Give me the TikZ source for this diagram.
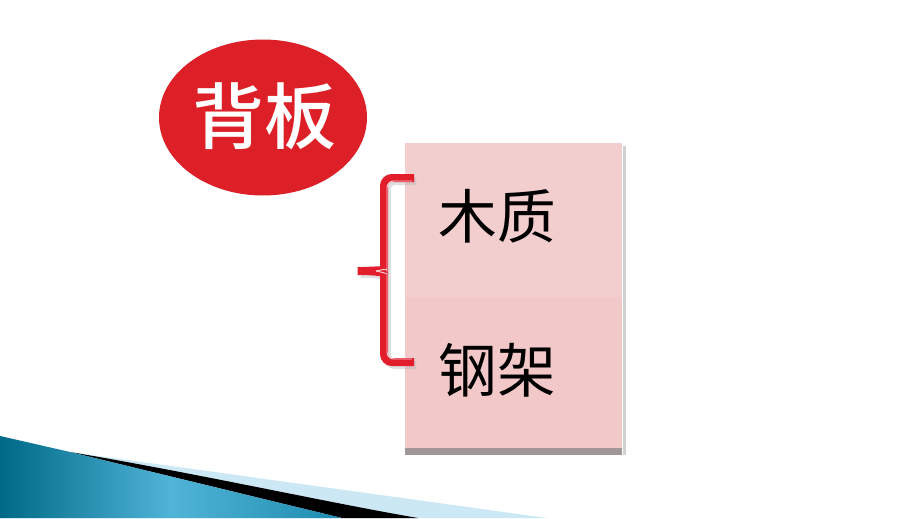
\documentclass[tikz,border=0pt]{standalone}
\usepackage{fontspec}
\usepackage{tikz}
\usetikzlibrary{shapes.geometric}
\newfontfamily\cjk{Noto Sans CJK SC}
\newfontfamily\cjkmed{Noto Sans CJK SC}[UprightFont=* Medium]
\definecolor{ovalred}{RGB}{221,32,40}
\definecolor{bracered}{RGB}{226,30,45}
\definecolor{cellpink}{RGB}{243,206,206}
\definecolor{tealdark}{RGB}{0,105,135}
\definecolor{teallight}{RGB}{80,180,215}
\definecolor{tealmid}{RGB}{30,140,175}
\definecolor{bandblue}{RGB}{205,232,245}

\begin{document}
\begin{tikzpicture}[x=0.75pt,y=0.75pt,yscale=-1,xscale=1]
\useasboundingbox (0,0) rectangle (920,518);

%Background
\fill [white] (0,0) rectangle (920,518);

%Corner wedge
\fill [bandblue] (0,436) -- (70,452) -- (547,518) -- (0,518) -- cycle ;
\fill [black] (70,452) .. controls (200,474) and (330,503) .. (418,518) -- (342,518) -- cycle ;
\shade [left color=tealdark, right color=tealmid, middle color=teallight] (0,436) -- (70,452) -- (342,518) -- (0,518) -- cycle ;

%Title oval
\node [ellipse, fill=ovalred, inner sep=0, minimum width=156pt, minimum height=117pt] (beiban) at (263,117.5) {};
\node [text=white, font=\cjkmed\fontsize{54pt}{54pt}\selectfont] (beibantext) at (264,116) {背板};

%Cells
\fill [black!18] (623,146) rectangle (626,455) ;
\fill [cellpink] (405,143) rectangle (622,297) ;
\fill [cellpink!97!red] (405,297) rectangle (622,448) ;
\fill [gray!70!cellpink] (405,448) rectangle (622,455) ;

% Text Node
\node [font=\cjk\fontsize{44pt}{44pt}\selectfont] (muzhi) at (497,216) {木质};
% Text Node
\node [font=\cjk\fontsize{44pt}{44pt}\selectfont] (gangjia) at (497,370) {钢架};

%Brace
\draw [black!30, line width=6pt, rounded corners=6, opacity=0.4] (416,181) -- (387,181) -- (387,267) .. controls (387,272) and (378,274) .. (356,274) .. controls (378,274) and (387,276) .. (387,283) -- (387,365) -- (416,365) ;
\draw [bracered, line width=6pt, rounded corners=6] (414,178) -- (384,178) -- (384,264) .. controls (384,269) and (375,271) .. (353,271) .. controls (375,271) and (384,273) .. (384,280) -- (384,362) -- (414,362) ;
%Brace highlight
\draw [white!80!bracered, line width=0.7pt, rounded corners=5] (412,181) -- (387,181) -- (387,264) .. controls (387,268) and (382,270) .. (376,271) ;
\draw [white!80!bracered, line width=0.7pt, rounded corners=5] (376,271) .. controls (382,272) and (387,274) .. (387,280) -- (387,359) -- (412,359) ;

\end{tikzpicture}
\end{document}
